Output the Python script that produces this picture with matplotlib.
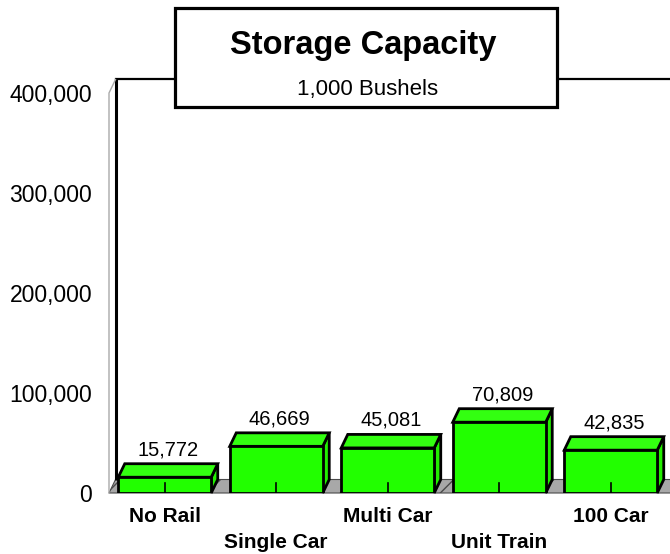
# storage capacity by rail service, drawn as faux-3d bars
import matplotlib.pyplot as plt
from matplotlib.patches import Polygon, Rectangle

categories = ['No Rail', 'Single Car', 'Multi Car', 'Unit Train', '100 Car']
capacity = [15772, 46669, 45081, 70809, 42835]
value_labels = ['15,772', '46,669', '45,081', '70,809', '42,835']
y_ticks = [0, 100000, 200000, 300000, 400000]
y_tick_labels = ['0', '100,000', '200,000', '300,000', '400,000']

W, H, DPI = 670, 554, 100
FONT = ['Liberation Sans', 'DejaVu Sans']

# depth offset of the fake 3d, in data units
dx = 6.5 / 111.5
dy = 13500
bar_w = 0.834

fig = plt.figure(figsize=(W / DPI, H / DPI), dpi=DPI)
ax = fig.add_axes([109 / W, (H - 493) / H, 557.5 / W, 400 / H])
ax.set_xlim(-0.5, 4.5)
ax.set_ylim(0, 400000)
for s in ax.spines.values():
    s.set_visible(False)
ax.set_xticks([])
ax.set_yticks(y_ticks)
ax.set_yticklabels(y_tick_labels, fontsize=16.5, family=FONT)
ax.tick_params(axis='y', length=0, pad=12)

# floor strip
floor = Polygon([(-0.5, 0), (4.7, 0), (4.7 + dx, dy), (-0.5 + dx, dy)],
                closed=True, facecolor='#a8a8a8', edgecolor='#4a4a4a',
                hatch='/', lw=0.8, clip_on=False, zorder=1)
ax.add_patch(floor)

# walls
ax.plot([-0.5 + dx, -0.5 + dx], [dy, 400000 + dy], color='black', lw=2.2,
        clip_on=False, zorder=2, solid_capstyle='butt')
ax.plot([-0.5 + dx, 4.7], [400000 + dy, 400000 + dy], color='black', lw=1.6,
        clip_on=False, zorder=2)
ax.plot([-0.5, -0.5, -0.5 + dx], [0, 400000, 400000 + dy], color='#aaaaaa',
        lw=1.0, clip_on=False, zorder=2)

green = '#22ff00'
for i, v in enumerate(capacity):
    x0, x1 = i - bar_w / 2, i + bar_w / 2
    front = Rectangle((x0, 0), bar_w, v, facecolor=green, edgecolor='black',
                      lw=2, zorder=4)
    top = Polygon([(x0, v), (x1, v), (x1 + dx, v + dy), (x0 + dx, v + dy)],
                  closed=True, facecolor='#33ff11', edgecolor='black', lw=2,
                  zorder=3)
    side = Polygon([(x1, 0), (x1 + dx, dy), (x1 + dx, v + dy), (x1, v)],
                   closed=True, facecolor='#22ee00', edgecolor='black', lw=2,
                   zorder=3, clip_on=False)
    ax.add_patch(side)
    ax.add_patch(top)
    ax.add_patch(front)
    # little category tick
    ax.plot([i, i], [0, 10000], color='black', lw=1.2, zorder=5)
    ax.text(i + dx / 2, v + dy + 14000, value_labels[i], ha='center',
            va='center', fontsize=14.5, family=FONT, zorder=6)
    ly = -24000 if i % 2 == 0 else -49000
    ax.text(i, ly, categories[i], ha='center', va='center', fontsize=15,
            fontweight='bold', family=FONT, clip_on=False)

# title box
fig.patches.append(Rectangle((175 / W, (H - 107) / H), 382 / W, 99 / H,
                             transform=fig.transFigure, facecolor='white',
                             edgecolor='black', lw=2.3, zorder=10))
fig.text(363 / W, (H - 54) / H, 'Storage Capacity', ha='center',
         va='baseline', fontsize=23.5, fontweight='bold',
         family=FONT, zorder=11)
fig.text(368 / W, (H - 95) / H, '1,000 Bushels', ha='center', va='baseline',
         fontsize=16, family=FONT, zorder=11)

fig.savefig('out.png', dpi=DPI)
